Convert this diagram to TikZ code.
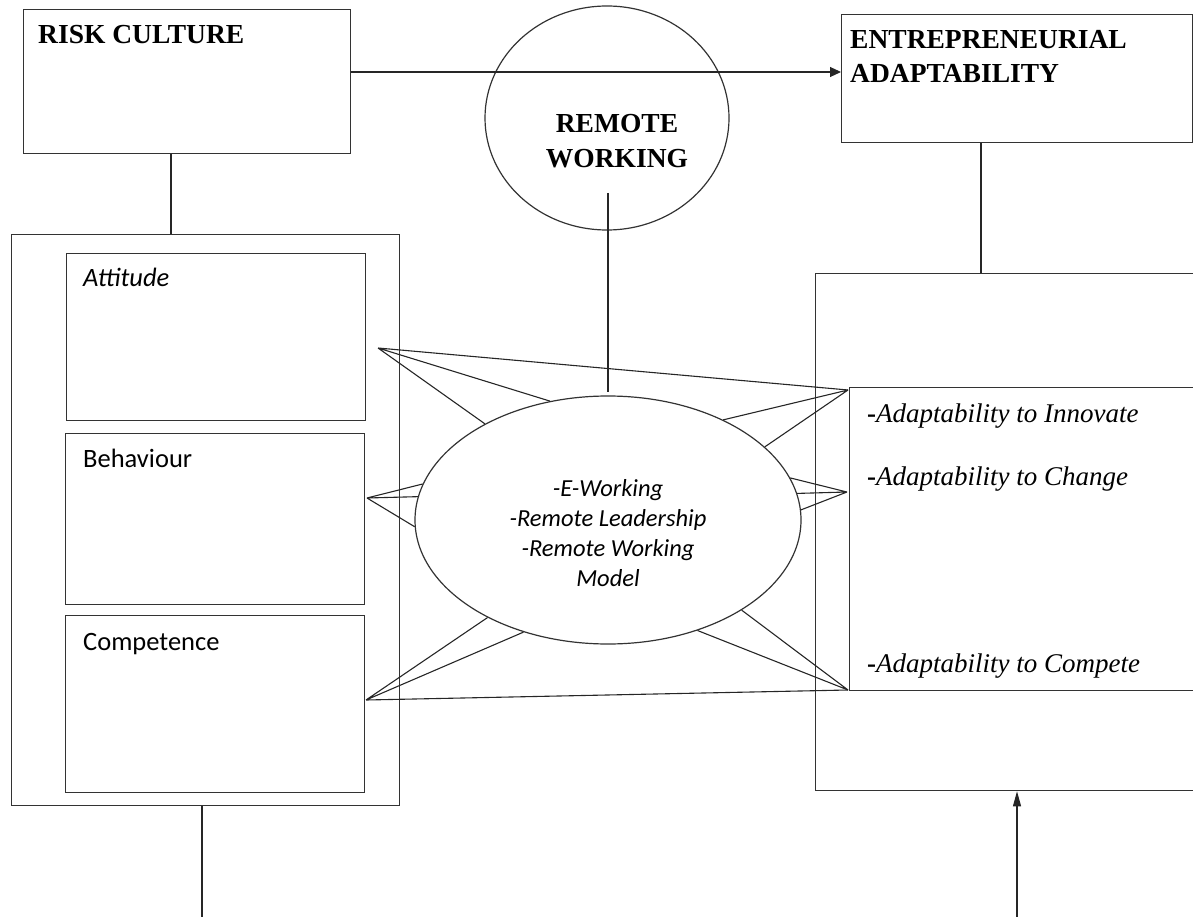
\documentclass[tikz,border=0pt]{standalone}
\usepackage{fontspec}
\setmainfont{Liberation Serif}
\newfontfamily\calfont{Carlito}
\usetikzlibrary{shapes.geometric,arrows.meta}
\begin{document}
\begin{tikzpicture}[x=1pt,y=-1pt,
  box/.style={draw=black!80,line width=1.3pt,rectangle,inner sep=0pt,anchor=north west},
  oval/.style={draw=black!80,line width=1.2pt,ellipse,inner sep=0pt},
  conn/.style={draw=black!85,line width=1.1pt},
  head/.style={font=\fontsize{27.5}{32}\selectfont\bfseries,inner sep=0pt},
  sub/.style={font=\fontsize{26.5}{30}\selectfont\calfont,inner sep=0pt,anchor=base west},
  mid/.style={font=\fontsize{24.5}{30}\selectfont\calfont\itshape,inner sep=0pt,anchor=base},
  adapt/.style={font=\fontsize{27}{32}\selectfont,inner sep=0pt,anchor=base west}]
\useasboundingbox (0,0) rectangle (1193,917);
\clip (0,0) rectangle (1193,917);

% boxes
\node[box,minimum width=327pt,minimum height=144pt] (rc) at (23,9) {};
\node[box,minimum width=351pt,minimum height=128pt] (ea) at (841,14) {};
\node[box,minimum width=388pt,minimum height=571pt] (lb) at (11,234) {};
\node[box,minimum width=299pt,minimum height=167pt] (att) at (66,253) {};
\node[box,minimum width=299pt,minimum height=171pt] (beh) at (65,433) {};
\node[box,minimum width=299pt,minimum height=177pt] (comp) at (65,615) {};
\node[box,minimum width=400pt,minimum height=517pt] (rb) at (815,273) {};
\node[box,minimum width=400pt,minimum height=303pt] (ib) at (849,387) {};

% ellipses
\node[oval,minimum width=244pt,minimum height=224pt] (rw) at (607,118) {};
\node[oval,minimum width=386pt,minimum height=248pt] (ce) at (608,520) {};

% texts
\node[head,anchor=base west] (t1) at (38,44) {RISK CULTURE};
\node[head,anchor=base west] (t2) at (850,49) {ENTREPRENEURIAL};
\node[head,anchor=base west] (t3) at (850,83) {ADAPTABILITY};
\node[head,anchor=base] (t4) at (617,133) {REMOTE};
\node[head,anchor=base] (t5) at (617,168) {WORKING};
\node[sub] (s1) at (83,287) {\itshape Attitude};
\node[sub] (s2) at (83,467) {Behaviour};
\node[sub] (s3) at (83,650) {Competence};
\node[mid] (m1) at (608,496) {-E-Working};
\node[mid] (m2) at (608,526) {-Remote Leadership};
\node[mid] (m3) at (608,556) {-Remote Working};
\node[mid] (m4) at (608,586) {Model};
\node[adapt] (a1) at (867,422) {\textbf{-}\textit{Adaptability to Innovate}};
\node[adapt] (a2) at (867,485) {\textbf{-}\textit{Adaptability to Change}};
\node[adapt] (a3) at (867,672) {\textbf{-}\textit{Adaptability to Compete}};

% helper coordinates
\coordinate (ay) at (0,72);
\coordinate (x171) at (171,0);
\coordinate (x981) at (981,0);
\coordinate (rwb) at (608,193);
\coordinate (cet) at (608,392);
\coordinate (lbot) at (202,917);
\coordinate (rbot) at (1017,917);
\coordinate (pa) at (378,348);
\coordinate (pb) at (367,498);
\coordinate (pc) at (366,700);
\coordinate (qi) at (848,390);
\coordinate (qc) at (847,492);
\coordinate (qk) at (848,690);

% main connectors
\draw[conn,-{Triangle[length=11pt,width=10pt]}] (rc.east |- ay) -- (ea.west |- ay);
\draw[conn] (rc.south -| x171) -- (lb.north -| x171);
\draw[conn] (ea.south -| x981) -- (rb.north -| x981);
\draw[conn] (rwb) -- (cet);
\draw[conn] (lb.south -| lbot) -- (lbot);
\draw[conn,-{Triangle[length=15pt,width=8pt]}] (rbot) -- (rb.south -| rbot);

% star lines
\draw[conn] (pa) -- (ce.142.8) (pa) -- (ce.116.8) (pa) -- (qi);
\draw[conn] (pb) -- (ce.169.3) (pb) -- (ce.173.4) (pb) -- (ce.182);
\draw[conn] (pc) -- (ce.219.7) (pc) -- (ce.233) (pc) -- (qk);
\draw[conn] (qi) -- (ce.41.8) (qi) -- (ce.25.8);
\draw[conn] (qc) -- (ce.13.7) (qc) -- (ce.8.4) (qc) -- (ce.3);
\draw[conn] (qk) -- (ce.-34.9) (qk) -- (ce.-51.5);
\end{tikzpicture}
\end{document}
